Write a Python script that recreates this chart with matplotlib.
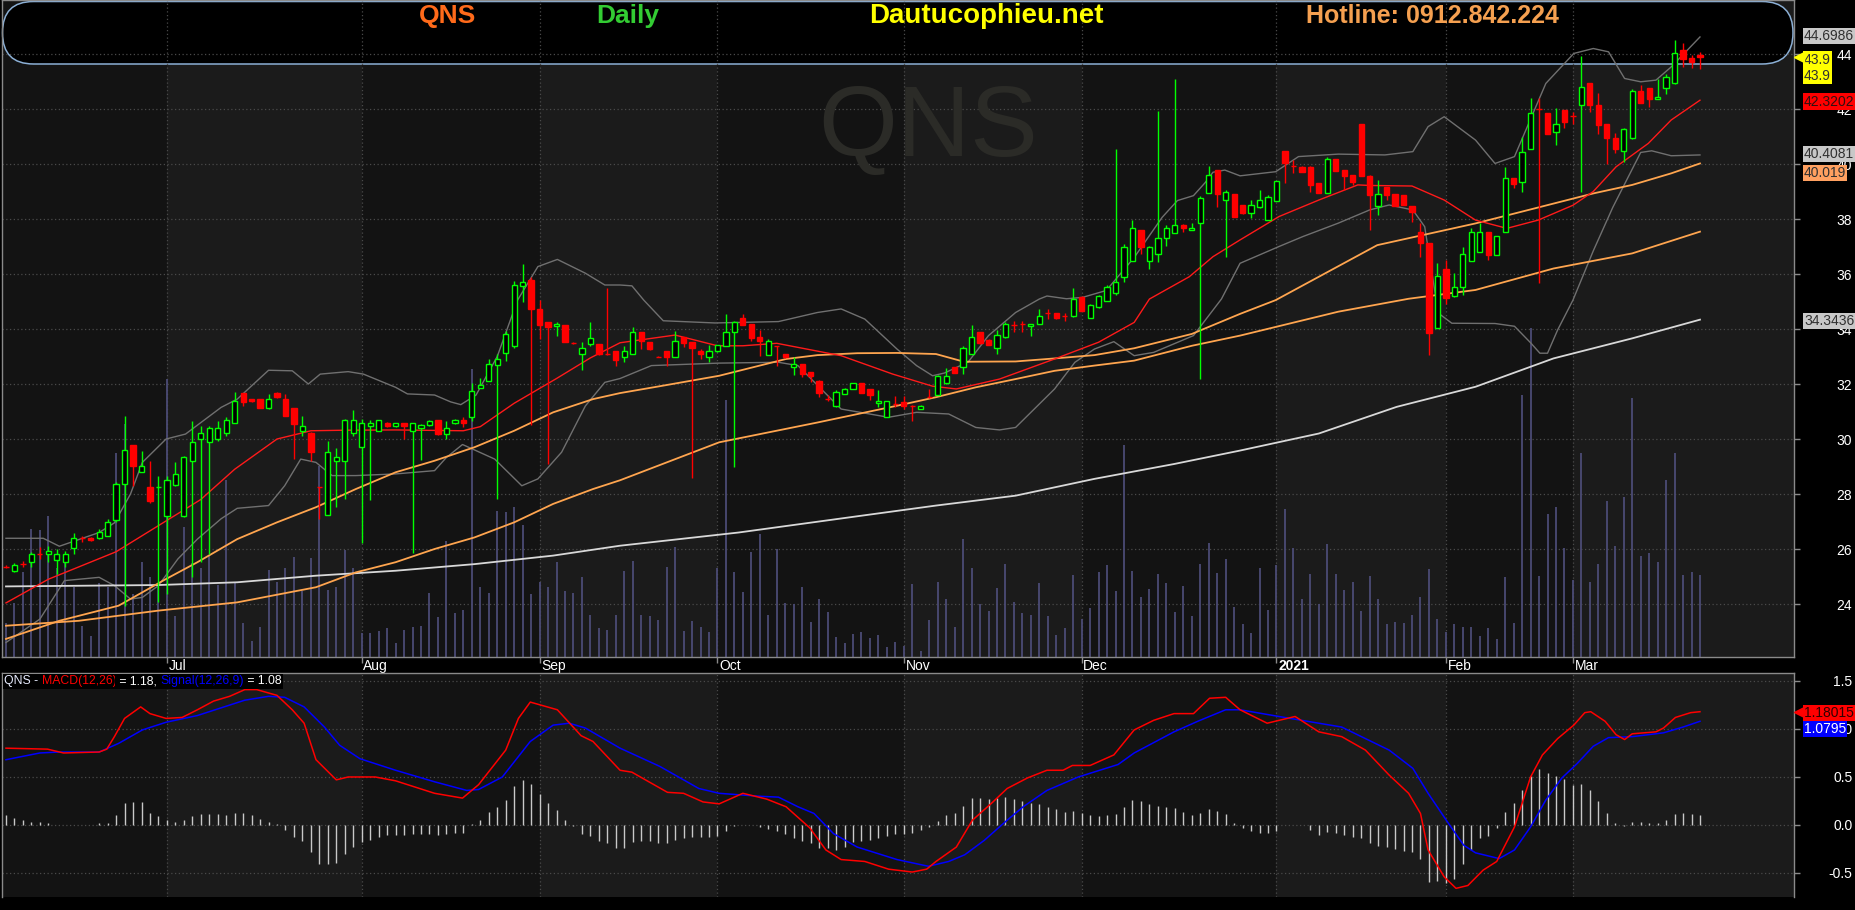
import matplotlib

matplotlib.use("Agg")
import matplotlib.pyplot as plt
import matplotlib.transforms as mtransforms
from matplotlib.patches import FancyBboxPatch
import numpy as np

plt.rcParams["font.family"] = ["Liberation Sans", "DejaVu Sans"]

# ---------------- data (daily bars, 2020-06-04 .. 2021-03-22) ----------------
month_idx = [19, 42, 63, 84, 106, 127, 150, 170, 185]
month_lbl = ["Jul", "Aug", "Sep", "Oct", "Nov", "Dec", "2021", "Feb", "Mar"]

opens = [
    25.36, 25.21, 25.45, 25.52, 25.82, 25.81, 25.60, 25.52, 26.02, 26.39,
    26.41, 26.39, 26.48, 27.07, 28.36, 29.79, 28.81, 28.24, 28.24, 27.19,
    28.34, 27.19, 29.21, 30.00, 29.90, 30.00, 30.21, 30.57, 31.66, 31.45,
    31.45, 31.14, 31.66, 31.45, 31.14, 30.28, 30.22, 28.24, 27.25, 29.21,
    29.21, 30.21, 29.70, 30.46, 30.28, 30.58, 30.46, 30.58, 30.28, 30.39,
    30.51, 30.69, 30.18, 30.57, 30.69, 30.79, 31.84, 32.12, 32.70, 33.13,
    33.39, 35.56, 35.80, 34.73, 34.27, 34.10, 34.15, 33.49, 33.09, 33.45,
    33.45, 33.09, 33.21, 33.00, 33.09, 33.88, 33.51, 33.00, 33.19, 33.00,
    33.70, 33.51, 33.21, 33.00, 33.19, 33.39, 33.88, 34.39, 34.18, 33.70,
    33.07, 33.39, 33.09, 32.61, 32.73, 32.42, 32.12, 31.45, 31.19, 31.64,
    31.82, 32.02, 31.82, 31.31, 30.81, 31.27, 31.33, 31.21, 31.09, 31.51,
    31.61, 32.02, 32.61, 32.61, 33.09, 33.88, 33.61, 33.30, 33.70, 34.15,
    34.18, 34.10, 34.18, 34.58, 34.58, 34.46, 34.46, 35.15, 34.40, 34.79,
    35.03, 35.32, 35.90, 36.48, 37.60, 36.48, 36.73, 37.30, 37.50, 37.80,
    37.60, 37.87, 38.96, 39.78, 38.69, 38.90, 38.51, 38.21, 38.45, 37.96,
    38.67, 40.47, 39.94, 39.90, 39.90, 39.30, 38.96, 40.18, 39.78, 39.60,
    41.45, 39.58, 38.48, 39.17, 38.90, 38.87, 38.48, 37.54, 37.12, 34.05,
    36.20, 35.20, 35.52, 36.48, 36.80, 37.52, 36.69, 37.52, 39.48, 39.36,
    40.55, 42.00, 41.84, 41.15, 41.96, 41.75, 42.15, 42.93, 42.15, 41.44,
    40.96, 40.47, 40.93, 42.65, 42.75, 42.36, 42.75, 42.93, 44.15, 43.84,
    43.96,
]
highs = [
    25.42, 25.48, 25.58, 25.88, 26.06, 26.10, 26.00, 25.92, 26.57, 26.49,
    26.43, 26.73, 27.09, 28.42, 30.85, 29.79, 29.58, 29.19, 28.67, 28.67,
    29.18, 29.39, 30.65, 30.48, 30.48, 30.65, 30.79, 31.70, 31.66, 31.47,
    31.47, 31.64, 31.70, 31.64, 31.14, 30.85, 30.24, 28.24, 29.94, 29.66,
    30.73, 31.05, 30.73, 30.69, 30.69, 30.62, 30.60, 30.60, 30.57, 30.55,
    30.70, 30.70, 30.65, 30.72, 30.79, 32.02, 32.22, 32.91, 33.09, 33.94,
    35.75, 36.36, 35.90, 35.05, 34.27, 34.24, 34.16, 33.52, 33.54, 34.24,
    33.46, 35.50, 33.21, 33.39, 34.06, 33.89, 33.52, 33.02, 33.20, 33.94,
    33.71, 33.52, 33.27, 33.43, 33.43, 34.55, 34.30, 34.55, 34.19, 33.96,
    33.64, 33.40, 33.10, 32.97, 32.74, 32.43, 32.13, 31.60, 31.79, 31.84,
    32.04, 32.03, 31.83, 31.79, 31.40, 31.58, 31.58, 31.23, 31.22, 31.82,
    32.31, 32.57, 32.62, 33.39, 34.15, 33.89, 33.62, 33.98, 34.27, 34.30,
    34.30, 34.19, 34.73, 34.73, 34.59, 34.60, 35.50, 35.20, 34.92, 35.25,
    35.60, 40.53, 37.10, 37.95, 37.61, 37.01, 41.93, 37.78, 43.09, 37.81,
    37.84, 38.85, 39.93, 39.79, 39.06, 38.91, 38.52, 38.69, 39.06, 38.87,
    39.40, 40.48, 40.15, 39.91, 39.91, 39.31, 40.27, 40.19, 39.79, 39.61,
    41.46, 39.60, 39.42, 39.18, 38.91, 38.88, 38.49, 37.84, 37.13, 36.40,
    36.50, 36.03, 36.99, 37.66, 37.84, 37.53, 37.40, 39.90, 39.49, 40.99,
    42.39, 42.39, 41.85, 42.02, 41.97, 41.90, 43.93, 42.94, 42.60, 41.45,
    41.12, 41.30, 42.71, 42.87, 42.76, 43.09, 43.27, 44.51, 44.41, 43.96,
    44.09,
]
lows = [
    25.30, 25.18, 25.36, 25.33, 25.64, 25.52, 25.09, 25.36, 25.82, 26.24,
    26.30, 26.36, 26.46, 26.97, 23.94, 28.28, 28.81, 27.67, 24.06, 24.36,
    28.28, 27.15, 24.97, 25.52, 25.82, 29.94, 30.12, 30.57, 31.19, 31.35,
    31.12, 31.09, 31.50, 30.82, 29.27, 30.12, 29.21, 27.09, 27.25, 27.52,
    27.82, 30.12, 26.21, 27.79, 30.28, 30.45, 30.44, 30.00, 25.84, 29.25,
    30.49, 30.16, 30.00, 30.55, 30.42, 30.67, 31.84, 32.12, 27.82, 32.85,
    33.30, 35.00, 30.50, 33.64, 29.10, 33.73, 33.52, 33.45, 32.52, 33.39,
    33.05, 33.05, 32.67, 32.79, 33.09, 33.27, 33.25, 32.98, 32.67, 33.00,
    33.33, 28.58, 32.91, 32.81, 33.18, 33.39, 28.97, 34.15, 33.58, 33.03,
    33.06, 32.67, 32.95, 32.33, 32.24, 32.06, 31.54, 31.39, 31.15, 31.63,
    31.81, 31.66, 31.43, 31.15, 30.80, 31.15, 31.09, 30.67, 31.08, 31.49,
    31.60, 32.01, 32.39, 32.36, 33.08, 33.47, 33.41, 33.09, 33.69, 33.90,
    33.90, 33.73, 34.17, 34.36, 34.38, 34.30, 34.45, 34.66, 34.39, 34.78,
    35.02, 35.24, 35.70, 36.48, 36.73, 36.20, 36.45, 37.03, 37.49, 37.54,
    37.59, 32.18, 38.95, 38.43, 36.63, 38.07, 38.20, 38.03, 38.39, 37.95,
    38.66, 39.30, 39.66, 39.71, 38.99, 38.95, 38.93, 39.75, 39.05, 39.24,
    39.57, 37.60, 38.15, 38.69, 38.47, 38.50, 37.90, 36.63, 33.05, 34.04,
    34.90, 35.18, 35.24, 36.47, 36.79, 36.51, 36.68, 37.51, 39.12, 38.99,
    40.54, 35.66, 41.08, 40.69, 41.30, 41.44, 38.97, 41.88, 41.09, 39.99,
    40.39, 40.09, 40.92, 42.22, 42.06, 42.35, 42.55, 42.92, 43.54, 43.48,
    43.45,
]
closes = [
    25.36, 25.43, 25.45, 25.81, 25.82, 25.92, 25.81, 25.81, 26.39, 26.39,
    26.31, 26.61, 26.97, 28.36, 29.61, 29.01, 29.01, 27.76, 28.25, 28.52,
    28.73, 29.33, 29.90, 30.21, 30.40, 30.39, 30.69, 31.37, 31.36, 31.37,
    31.14, 31.45, 31.54, 30.85, 30.55, 30.48, 29.52, 28.24, 29.52, 29.33,
    30.69, 30.69, 30.57, 30.57, 30.69, 30.48, 30.57, 30.48, 30.57, 30.51,
    30.67, 30.18, 30.39, 30.69, 30.57, 31.73, 31.96, 32.73, 32.91, 33.82,
    35.60, 35.72, 34.73, 34.15, 34.07, 34.20, 33.54, 33.49, 33.30, 33.66,
    33.09, 33.09, 32.88, 33.21, 33.88, 33.58, 33.27, 33.00, 33.00, 33.58,
    33.48, 33.30, 33.09, 33.21, 33.42, 33.88, 34.27, 34.16, 33.66, 33.58,
    33.58, 33.39, 32.97, 32.73, 32.36, 32.30, 31.67, 31.45, 31.70, 31.82,
    32.02, 31.67, 31.60, 31.39, 31.39, 31.27, 31.21, 31.21, 31.21, 31.51,
    32.30, 32.30, 32.40, 33.30, 33.70, 33.48, 33.42, 33.78, 34.18, 34.15,
    34.18, 34.18, 34.46, 34.58, 34.39, 34.46, 35.09, 34.67, 34.87, 35.20,
    35.52, 35.72, 37.00, 37.68, 36.97, 37.00, 37.30, 37.68, 37.80, 37.68,
    37.68, 38.78, 39.60, 38.90, 38.97, 38.08, 38.21, 38.51, 38.69, 38.81,
    39.38, 40.02, 39.94, 39.72, 39.24, 38.96, 40.18, 39.76, 39.56, 39.36,
    39.58, 38.87, 38.90, 38.87, 38.48, 38.51, 38.27, 37.12, 33.84, 35.93,
    35.12, 35.52, 36.73, 37.52, 37.52, 36.69, 37.39, 39.48, 39.26, 40.45,
    41.84, 42.00, 41.09, 41.44, 41.54, 41.75, 42.81, 42.15, 41.42, 40.93,
    40.53, 41.26, 42.65, 42.23, 42.36, 42.45, 43.15, 44.02, 43.82, 43.72,
    43.90,
]
volume = [  # thousand shares
    337, 537, 853, 1277, 1270, 1410, 887, 953, 703, 310,
    210, 743, 697, 2037, 2330, 630, 953, 803, 703, 2780,
    410, 1297, 937, 887, 1020, 720, 1770, 743, 337, 163,
    303, 870, 753, 887, 1003, 663, 987, 1910, 670, 697,
    1070, 887, 237, 237, 263, 287, 137, 270, 297, 310,
    637, 403, 1163, 437, 470, 2880, 697, 637, 1463, 1453,
    1497, 1320, 630, 753, 703, 953, 663, 637, 797, 420,
    287, 270, 420, 863, 960, 420, 410, 370, 903, 1097,
    260, 360, 303, 253, 887, 2570, 853, 647, 1047, 1227,
    420, 1077, 537, 530, 697, 347, 577, 447, 197, 137,
    230, 247, 187, 220, 97, 147, 110, 730, 63, 370,
    747, 580, 303, 1180, 893, 527, 460, 690, 927, 550,
    443, 420, 737, 410, 220, 287, 820, 380, 493, 853,
    920, 660, 2120, 860, 603, 680, 830, 737, 447, 710,
    410, 927, 1137, 837, 980, 497, 330, 243, 887, 470,
    920, 1480, 1087, 577, 830, 530, 1127, 830, 670, 747,
    460, 810, 577, 330, 347, 343, 420, 597, 877, 380,
    247, 330, 297, 303, 210, 287, 177, 797, 337, 2620,
    3287, 810, 1430, 1497, 1087, 770, 2037, 747, 930, 1560,
    1110, 1597, 2587, 1010, 1037, 947, 1770, 2037, 820, 847,
    820,
]
VOL_TOP = 6570  # volume value at the top of the price pane

# moving averages / Bollinger bands, read at sampled bars
ma20_x = [0, 5, 13, 18, 23, 27, 32, 36, 40, 46, 54, 56, 60, 65, 69, 72.5, 79, 84, 87, 91, 98.6,
          104.7, 109.4, 112.2, 117.3, 123.8, 129, 133.2, 135, 139.7, 142.5, 145.7, 150.3, 155,
          159.6, 161, 166, 169.8, 173.5, 177.2, 180.9, 185, 187.4, 190.1, 193.9, 196.6, 200]
ma20_y = [24.04, 24.9, 25.9, 26.85, 27.8, 28.9, 30.0, 30.3, 30.32, 30.33, 30.3, 30.45, 31.3, 32.2,
          32.95, 33.5, 33.78, 33.39, 33.39, 33.48, 33.03, 32.36, 31.92, 31.82, 32.18, 32.91, 33.52,
          34.24, 35.09, 35.9, 36.63, 37.24, 38.09, 38.69, 39.24, 39.22, 39.2, 38.69, 37.96, 37.66,
          37.96, 38.5, 39.0, 39.9, 40.75, 41.6, 42.32]
ma50_x = [0, 6.3, 13.3, 18.9, 22.6, 27.3, 32, 36.6, 41.3, 46, 50.6, 55.3, 60, 64.6, 69.3, 72.5,
          77.2, 84.2, 92.1, 95.8, 100.5, 105.2, 109.8, 113.1, 119.2, 123.8, 128.5, 133.2, 140,
          145.7, 149.9, 161.9, 173.5, 180.4, 187.4, 192, 196.6, 200]
ma50_y = [22.73, 23.39, 23.94, 24.91, 25.52, 26.36, 26.97, 27.52, 28.18, 28.79, 29.21, 29.7, 30.3,
          30.97, 31.45, 31.67, 31.92, 32.3, 32.91, 33.05, 33.12, 33.13, 33.09, 32.81, 32.82, 32.93,
          33.05, 33.3, 33.82, 34.55, 35.05, 37.05, 37.84, 38.38, 38.93, 39.24, 39.66, 40.02]
ma100_x = [0, 8.6, 18, 27.3, 36.6, 41.3, 46, 50.6, 55.3, 60, 64.6, 69.3, 72.5, 84.2, 95.8, 105.2,
           109.8, 114.5, 119.2, 123.8, 128.5, 133.2, 140, 145.7, 157.3, 165.6, 173.5, 182.7, 192, 200]
ma100_y = [23.21, 23.39, 23.76, 24.06, 24.61, 25.15, 25.52, 26.0, 26.42, 26.97, 27.64, 28.18, 28.5,
           29.88, 30.6, 31.21, 31.52, 31.88, 32.18, 32.48, 32.67, 32.85, 33.39, 33.76, 34.63, 35.1,
           35.42, 36.2, 36.75, 37.54]
ma200_x = [0, 18, 27.3, 36.6, 46, 55.3, 64.6, 72.5, 86.5, 100.5, 109.8, 119.2, 128.5, 137.9, 145.7,
           155, 164.2, 173.5, 182.7, 192, 200]
ma200_y = [24.64, 24.69, 24.79, 25.03, 25.21, 25.45, 25.76, 26.12, 26.6, 27.19, 27.58, 27.94, 28.55,
           29.09, 29.58, 30.2, 31.17, 31.9, 32.93, 33.66, 34.34]
bb_up_x = [0, 4.4, 6.3, 11, 12.8, 14.7, 16.1, 18.9, 21.2, 25.4, 27.3, 31, 33.8, 35.7, 37.1, 40.4,
           42.2, 46, 47.4, 50.6, 52.5, 53.7, 55.5, 58, 60.4, 62.8, 65.1, 68.4, 70.7, 72.5, 73.9,
           75.3, 77.6, 83.7, 91.2, 95.8, 98.6, 101.4, 105.2, 107.5, 109.4, 110.8, 113.6, 116,
           119.2, 122, 122.9, 125.2, 127.1, 129.9, 133.2, 136.5, 138.3, 140.2, 141.6, 142.5,
           143.9, 145.7, 149.9, 152.6, 157.3, 162.8, 166.1, 167.9, 169.8, 173.5, 175.8, 178.1,
           181.8, 185.1, 187.4, 189.2, 191.1, 193, 194.8, 196.6, 200]
bb_up_y = [26.39, 26.39, 26.1, 26.6, 26.95, 28.0, 29.15, 30.0, 30.18, 31.15, 31.45, 32.5, 32.48,
           32.0, 32.36, 32.45, 32.36, 31.88, 31.64, 31.6, 31.35, 31.25, 31.6, 33.0, 35.05, 36.27,
           36.53, 36.03, 35.6, 35.6, 35.57, 35.05, 34.3, 34.22, 34.27, 34.6, 34.73, 34.36, 33.27,
           32.67, 32.3, 32.4, 32.8, 33.76, 34.6, 35.09, 35.2, 35.1, 35.15, 35.4, 36.6, 38.06,
           38.67, 38.85, 39.33, 39.7, 39.78, 39.57, 39.72, 40.27, 40.36, 40.33, 40.45, 41.36,
           41.72, 40.87, 40.02, 40.27, 42.93, 44.02, 44.2, 44.08, 43.11, 42.99, 43.05, 43.53, 44.62]
bb_lo_x = [0, 4, 6.9, 11, 12.8, 14.7, 16.1, 18, 20.3, 22.6, 25.4, 27.3, 31, 32.9, 34.8, 36.6, 38.5,
           41.3, 46, 50.6, 52, 53.9, 57.7, 60.9, 62.8, 65.6, 68.4, 70.7, 72.5, 76.2, 84.2, 91.2,
           93.5, 98.6, 104.2, 107.5, 111.3, 114.5, 117.3, 119.2, 123.8, 126.2, 128.5, 130.8,
           133.2, 135.5, 140.2, 143.5, 145.7, 150.3, 153.1, 157.3, 161, 163.3, 166.1, 167.5,
           169.1, 170.7, 175.8, 178.1, 180, 181.1, 182, 183.2, 185, 187.4, 189.7, 191.1, 193,
           194.3, 196.6, 200]
bb_lo_y = [22.6, 23.45, 24.85, 24.97, 24.67, 24.18, 24.24, 24.67, 25.64, 26.36, 27.1, 27.48, 27.58,
           28.3, 29.27, 29.15, 28.67, 28.67, 28.73, 28.85, 29.33, 29.8, 29.27, 28.3, 28.55, 29.52,
           31.2, 32.06, 32.2, 32.67, 32.76, 32.79, 32.67, 31.09, 30.79, 30.97, 30.91, 30.42,
           30.33, 30.42, 31.82, 32.79, 33.27, 33.54, 33.03, 33.15, 33.76, 35.09, 36.39, 37.0,
           37.36, 37.85, 38.33, 38.51, 38.33, 37.72, 34.58, 34.21, 34.2, 34.1, 33.5, 33.12,
           33.12, 33.97, 35.05, 36.84, 38.42, 39.27, 40.42, 40.48, 40.3, 40.33]

# MACD(12,26) / signal(12,26,9), read at sampled bars; histogram per bar
macd_x = [0, 4.9, 6.8, 11, 11.9, 12.8, 14, 15.9, 17, 18.9, 20.8, 22.6, 24.5, 26.4, 28.2, 29.6, 32,
          33.8, 35.2, 36.6, 39, 40.4, 43.6, 46, 50.6, 53.9, 55.8, 59, 60.5, 61.9, 65.1, 67.9, 69.3,
          72.5, 73.9, 78.1, 80, 82.3, 84.2, 87, 89.8, 92.1, 94.9, 96.8, 98.6, 101.4, 104.2, 107,
          108.7, 109.8, 112.2, 114.1, 116.4, 118.2, 120.6, 122.9, 124.8, 125.9, 128, 130.8,
          133.2, 135.5, 137.9, 140.2, 142.1, 144, 145.7, 148.9, 152.2, 155, 157.7, 160.5, 163.3,
          165.6, 167, 167.9, 169.8, 171.2, 172.6, 174.4, 176, 178.1, 180, 181.4, 183.2, 185.1,
          186.4, 187.1, 188.8, 190.1, 191.1, 192, 194.8, 195.7, 197.1, 198.9, 200]
macd_y = [0.80, 0.79, 0.75, 0.76, 0.79, 0.92, 1.11, 1.23, 1.16, 1.11, 1.12, 1.2, 1.29, 1.34, 1.41,
          1.41, 1.35, 1.2, 1.06, 0.68, 0.47, 0.5, 0.5, 0.46, 0.33, 0.28, 0.42, 0.78, 1.11, 1.28, 1.2,
          0.93, 0.87, 0.57, 0.55, 0.34, 0.33, 0.24, 0.22, 0.33, 0.27, 0.19, -0.03, -0.26, -0.36,
          -0.38, -0.46, -0.49, -0.46, -0.38, -0.23, 0.05, 0.23, 0.38, 0.49, 0.57, 0.57, 0.62,
          0.62, 0.73, 0.99, 1.09, 1.16, 1.16, 1.32, 1.33, 1.2, 1.06, 1.13, 0.97, 0.92, 0.78, 0.52,
          0.33, 0.12, -0.26, -0.54, -0.66, -0.63, -0.47, -0.38, -0.02, 0.5, 0.73, 0.9, 1.04, 1.17,
          1.18, 1.08, 0.94, 0.89, 0.95, 0.97, 1.01, 1.12, 1.17, 1.18]
sig_x = [0, 4, 6.3, 11, 13.3, 16.1, 18.9, 22.6, 25.4, 28.2, 31, 32.9, 35.2, 37.6, 39.4, 41.8, 46,
         50.6, 54.4, 55.8, 58.6, 61.9, 64.6, 66.5, 68.4, 72.5, 77.2, 81.8, 84.2, 88.8, 91.2, 93.5,
         95.4, 97.7, 100.5, 105.2, 108.9, 111.3, 113.2, 115.5, 118.2, 120.1, 122.9, 126.6, 131.3,
         133.2, 137.9, 140.7, 144, 145.7, 150.3, 155, 157.7, 160.5, 163.3, 166.1, 167.9, 170.2,
         172.1, 173.5, 176.3, 178.1, 180, 181.8, 183.7, 185.5, 187.4, 189.2, 192, 195.7, 198, 200]
sig_y = [0.68, 0.75, 0.76, 0.76, 0.85, 0.99, 1.07, 1.14, 1.22, 1.3, 1.34, 1.33, 1.23, 1.02, 0.83,
         0.69, 0.57, 0.45, 0.36, 0.37, 0.5, 0.87, 1.04, 1.06, 1.01, 0.8, 0.61, 0.38, 0.33, 0.3,
         0.29, 0.19, 0.12, -0.09, -0.23, -0.36, -0.43, -0.38, -0.31, -0.16, 0.05, 0.19, 0.36, 0.5,
         0.63, 0.75, 0.97, 1.08, 1.2, 1.2, 1.13, 1.06, 1.02, 0.9, 0.78, 0.59, 0.33, 0.03, -0.21,
         -0.29, -0.35, -0.26, -0.02, 0.26, 0.49, 0.64, 0.82, 0.91, 0.92, 0.96, 1.02, 1.08]
hist = [
    0.10, 0.07, 0.05, 0.035, 0.03, 0.02, 0.0, 0.005, 0.005, 0.005,
    0.0, 0.02, 0.02, 0.10, 0.23, 0.24, 0.24, 0.13, 0.09, 0.05,
    0.03, 0.05, 0.09, 0.11, 0.11, 0.11, 0.10, 0.125, 0.125, 0.10,
    0.06, 0.03, 0.01, -0.05, -0.12, -0.17, -0.28, -0.41, -0.41, -0.40,
    -0.30, -0.23, -0.18, -0.16, -0.12, -0.10, -0.10, -0.10, -0.09, -0.09,
    -0.09, -0.10, -0.09, -0.08, -0.08, 0.01, 0.05, 0.14, 0.19, 0.26,
    0.41, 0.47, 0.43, 0.32, 0.23, 0.16, 0.05, -0.01, -0.09, -0.11,
    -0.17, -0.19, -0.24, -0.24, -0.18, -0.17, -0.17, -0.19, -0.19, -0.16,
    -0.14, -0.13, -0.13, -0.13, -0.11, -0.06, -0.01, -0.005, 0.0, -0.02,
    -0.04, -0.06, -0.09, -0.14, -0.17, -0.19, -0.24, -0.24, -0.26, -0.23,
    -0.18, -0.17, -0.16, -0.14, -0.11, -0.09, -0.09, -0.08, -0.05, -0.02,
    0.045, 0.10, 0.125, 0.20, 0.28, 0.28, 0.27, 0.28, 0.29, 0.27,
    0.25, 0.23, 0.22, 0.19, 0.17, 0.14, 0.15, 0.12, 0.10, 0.09,
    0.10, 0.11, 0.19, 0.26, 0.25, 0.22, 0.20, 0.19, 0.18, 0.14,
    0.10, 0.13, 0.17, 0.15, 0.11, 0.02, -0.03, -0.06, -0.08, -0.08,
    -0.06, 0.0, 0.0, 0.0, -0.05, -0.10, -0.07, -0.08, -0.10, -0.13,
    -0.14, -0.19, -0.22, -0.23, -0.25, -0.27, -0.28, -0.35, -0.59, -0.58,
    -0.60, -0.56, -0.41, -0.26, -0.14, -0.11, -0.035, 0.14, 0.23, 0.36,
    0.51, 0.58, 0.54, 0.51, 0.48, 0.42, 0.43, 0.36, 0.25, 0.13,
    0.02, -0.01, 0.035, 0.035, 0.025, 0.025, 0.05, 0.11, 0.13, 0.11,
    0.10,
]

price_ticks = [24, 26, 28, 30, 32, 34, 36, 38, 40, 42, 44]
macd_ticks = [1.5, 1.0, 0.5, 0.0, -0.5]

# last-value tags on the right axis: (value, text, face, text colour, extra shift px)
price_tags = [
    (44.6986, "44.6986", "#c8c8c8", "#303030", 0),
    (42.3202, "42.3202", "#ff0000", "#301010", 0),
    (40.4081, "40.4081", "#c8c8c8", "#303030", 0),
    (40.019, "40.019", "#ffa060", "#303030", 8),
    (34.3436, "34.3436", "#c8c8c8", "#303030", 0),
]
last_close = closes[-1]
macd_last, sig_last = 1.18015, 1.0795

# ---------------- figure ----------------
W, H = 1855, 910
BG_DARK, BG_LIGHT = "#131313", "#1b1b1b"
GRID = "#4a4a4a"
GREEN, RED = "#00ff00", "#ff0000"
XLIM = (-0.47, 211.1)

fig = plt.figure(figsize=(W / 100, H / 100), dpi=100, facecolor="black")


def _rect(x0, y0, x1, y1):
    return [x0 / W, 1 - y1 / H, (x1 - x0) / W, (y1 - y0) / H]


ax = fig.add_axes(_rect(2, 0, 1794, 657))
axm = fig.add_axes(_rect(2, 673, 1794, 897))

n = len(closes)
idx = np.arange(n)
edges = [XLIM[0]] + month_idx + [XLIM[1]]
for a in (ax, axm):
    a.set_xlim(*XLIM)
    a.set_facecolor(BG_DARK)
    for k in range(len(edges) - 1):
        a.axvspan(edges[k], edges[k + 1], color=BG_DARK if k % 2 == 0 else BG_LIGHT, lw=0, zorder=0)
    for m in month_idx:
        a.axvline(m, color=GRID, ls=(0, (1, 2)), lw=0.9, zorder=0.8)
    for s in a.spines.values():
        s.set_color("#8a8a8a")
        s.set_linewidth(1.0)
axm.spines["bottom"].set_visible(False)

# ---- price pane ----
ax.set_ylim(22.073, 45.964)
for v in price_ticks:
    ax.axhline(v, color=GRID, ls=(0, (1, 2)), lw=0.9, zorder=0.8)

pill = FancyBboxPatch((2.5, H - 64), 1790.5, 62.5, boxstyle="round,pad=0,rounding_size=31",
                      transform=mtransforms.IdentityTransform(), fc="black", ec="#8cb0d6",
                      lw=1.1, zorder=0.5, clip_on=False)
ax.add_artist(pill)

ax.text(0.5167, 0.802, "QNS", transform=ax.transAxes, fontsize=73, color="#2b2b27",
        ha="center", va="center", zorder=0.9)

ax.vlines(idx, 0, np.array(volume) / VOL_TOP, transform=ax.get_xaxis_transform(),
          colors="#4b4b75", lw=1.3, zorder=1)

ax.plot(bb_up_x, bb_up_y, color="#707070", lw=1.0, zorder=2)
ax.plot(bb_lo_x, bb_lo_y, color="#707070", lw=1.0, zorder=2)
ax.plot(ma200_x, ma200_y, color="#d8d8d8", lw=1.3, zorder=2)
ax.plot(ma100_x, ma100_y, color="#ffa54f", lw=1.3, zorder=2)
ax.plot(ma50_x, ma50_y, color="#ffa54f", lw=1.3, zorder=2)
ax.plot(ma20_x, ma20_y, color="#ff1a1a", lw=1.0, zorder=2)

o, hi, lo, c = map(np.array, (opens, highs, lows, closes))
up = c > o
ax.vlines(idx, lo, hi, colors=np.where(up, GREEN, RED), lw=1.0, zorder=3)
ax.bar(idx, np.abs(c - o), bottom=np.minimum(o, c), width=0.62,
       color=np.where(up, "black", RED), edgecolor=np.where(up, GREEN, RED), lw=1.0, zorder=4)

# header texts
for s, col, cx, fs in (("QNS", "#ff6a1a", 448, 19), ("Daily", "#33cc33", 628, 19),
                       ("Dautucophieu.net", "#ffff00", 986, 20),
                       ("Hotline: 0912.842.224", "#f5a050", 1432, 18)):
    ax.text((cx - 2) / 1792, 1 - 16 / 657, s, transform=ax.transAxes, color=col, fontsize=fs,
            fontweight="bold", ha="center", va="center", zorder=6)

# ---- MACD pane ----
axm.set_ylim(-0.75, 1.583)
for v in macd_ticks:
    axm.axhline(v, color=GRID, ls=(0, (1, 2)), lw=0.9, zorder=0.8)
axm.vlines(idx, 0, hist, colors="#c8c8c8", lw=1.0, zorder=2)
axm.plot(sig_x, sig_y, color="#0000ff", lw=1.1, zorder=3)
axm.plot(macd_x, macd_y, color="#ff0000", lw=1.1, zorder=4)

parts = [("QNS - ", "#e8ecff"), ("MACD(12,26)", "#ff0000"), (" = 1.18, ", "white"),
         ("Signal(12,26,9)", "#0000ff"), (" = 1.08", "white")]
prev = axm.text(0.0012, 0.99, parts[0][0], transform=axm.transAxes, va="top", ha="left",
                color=parts[0][1], fontsize=8.8, zorder=10,
                bbox=dict(fc="black", ec="none", pad=1.0))
for s, col in parts[1:]:
    prev = axm.annotate(s, xy=(1, 0), xycoords=prev, va="bottom", ha="left", color=col,
                        fontsize=8.8, zorder=10, bbox=dict(fc="black", ec="none", pad=1.0))

# ---- axes ticks ----
for a, ticks, fmt in ((ax, price_ticks, "{:.0f}"), (axm, macd_ticks, "{:.1f}")):
    a.yaxis.tick_right()
    a.set_yticks(ticks)
    a.set_yticklabels([fmt.format(t) for t in ticks])
    a.tick_params(axis="y", direction="out", length=4, width=1, color="#8a8a8a",
                  labelcolor="white", labelsize=10, pad=38)
    for lbl in a.get_yticklabels():
        lbl.set_ha("right")
ax.set_xticks(month_idx)
ax.tick_params(axis="x", direction="out", length=4, width=1, color="#8a8a8a", labelbottom=False)
axm.set_xticks([])
for m, s in zip(month_idx, month_lbl):
    ax.text(m + 0.2, -0.003, s, transform=ax.get_xaxis_transform(), va="top", ha="left",
            color="white", fontsize=10, fontweight="bold" if s == "2021" else "normal")

# ---- last value tags ----
XT = (1804 - 2) / 1792
XA = (1799 - 2) / 1792


def tag(a, val, text, fc, tc, dy_px=0.0, fs=10):
    a.annotate(text, xy=(XT, val), xycoords=a.get_yaxis_transform(), xytext=(0, -dy_px * 0.72 - 1),
               textcoords="offset points", ha="left", va="center", fontsize=fs, color=tc,
               annotation_clip=False, zorder=10,
               bbox=dict(boxstyle="square,pad=0.08", fc=fc, ec="none"))


for val, s, fc, tc, dy in price_tags:
    tag(ax, val, s, fc, tc, dy)
tag(ax, last_close, f"{last_close:.1f}\n{last_close:.1f}", "#ffff00", "#303030", 9.5)
ax.plot([XA], [last_close], marker="<", ms=7, color="#ffff00", transform=ax.get_yaxis_transform(),
        clip_on=False, zorder=10)
tag(axm, macd_last, f"{macd_last:.5f}", "#ff0000", "#300000", 0)
axm.plot([XA], [macd_last], marker="<", ms=7, color="#ff0000", transform=axm.get_yaxis_transform(),
         clip_on=False, zorder=10)
tag(axm, sig_last, f"{sig_last:.4f}", "#0000ff", "white", 6)

fig.savefig("out.png", dpi=100, facecolor="black")
